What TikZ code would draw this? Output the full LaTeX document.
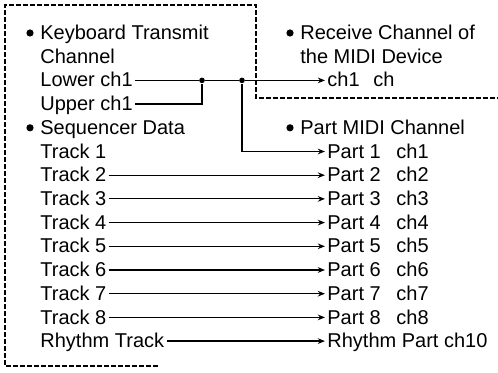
\documentclass[tikz,border=0pt]{standalone}
\usepackage{fontspec}
\setmainfont{Liberation Sans}
\usetikzlibrary{arrows.meta,positioning}
\tikzset{
  midilabel/.style={anchor=west,inner sep=1pt,text height=1.55ex,text depth=.3ex,
    font=\fontsize{10}{12}\selectfont},
  bulletdot/.style={circle,fill=black,inner sep=0pt,minimum size=3.6pt},
  junction/.style={circle,fill=black,inner sep=0pt,minimum size=2.8pt},
  wire/.style={line width=0.6pt},
  arrow/.style={wire,-{Stealth[length=3.6pt,width=2.8pt]}},
  frame/.style={line width=0.55pt,dash pattern=on 2.4pt off 1.1pt}
}

\begin{document}
\begin{tikzpicture}[x=0.5pt,y=-0.5pt]
  \useasboundingbox (0,0) rectangle (498,373);
  % dashed frame round the keyboard part
  \draw[frame] (158,366) -- (5,366) -- (5,5) -- (256,5) -- (256,98) -- (498,98);
  % left column
  \node[midilabel] (kbd) at (38,33) {Keyboard Transmit};
  \node[bulletdot, left=2pt of kbd] (kbddot) {};
  \node[midilabel] (chan) at (38,56.7) {Channel};
  \node[midilabel] (lower) at (38,80.4) {Lower ch1};
  \node[midilabel] (upper) at (38,104) {Upper ch1};
  \node[midilabel] (seq) at (38,127.8) {Sequencer Data};
  \node[bulletdot, left=2pt of seq] (seqdot) {};
  \node[midilabel] (trk1) at (38,151.5) {Track 1};
  \node[midilabel] (trk2) at (38,175.2) {Track 2};
  \node[midilabel] (trk3) at (38,198.9) {Track 3};
  \node[midilabel] (trk4) at (38,222.6) {Track 4};
  \node[midilabel] (trk5) at (38,246.3) {Track 5};
  \node[midilabel] (trk6) at (38,270) {Track 6};
  \node[midilabel] (trk7) at (38,293.7) {Track 7};
  \node[midilabel] (trk8) at (38,317.4) {Track 8};
  \node[midilabel] (trkr) at (38,341.1) {Rhythm Track};
  % right column
  \node[midilabel] (recv) at (298,33) {Receive Channel of};
  \node[bulletdot, left=2pt of recv] (recvdot) {};
  \node[midilabel] (dev) at (298,56.7) {the MIDI Device};
  \node[midilabel] (devch) at (325,80.4) {ch1};
  \node[midilabel] (devchx) at (371,80.4) {ch};
  \node[midilabel] (pmidi) at (298,127.8) {Part MIDI Channel};
  \node[bulletdot, left=2pt of pmidi] (pmididot) {};
  \node[midilabel] (part1) at (325,151.5) {Part 1};
  \node[midilabel] (part2) at (325,175.2) {Part 2};
  \node[midilabel] (part3) at (325,198.9) {Part 3};
  \node[midilabel] (part4) at (325,222.6) {Part 4};
  \node[midilabel] (part5) at (325,246.3) {Part 5};
  \node[midilabel] (part6) at (325,270) {Part 6};
  \node[midilabel] (part7) at (325,293.7) {Part 7};
  \node[midilabel] (part8) at (325,317.4) {Part 8};
  \node[midilabel] (partr) at (325,341.1) {Rhythm Part ch10};
  \node[midilabel] (ch1) at (394,151.5) {ch1};
  \node[midilabel] (ch2) at (394,175.2) {ch2};
  \node[midilabel] (ch3) at (394,198.9) {ch3};
  \node[midilabel] (ch4) at (394,222.6) {ch4};
  \node[midilabel] (ch5) at (394,246.3) {ch5};
  \node[midilabel] (ch6) at (394,270) {ch6};
  \node[midilabel] (ch7) at (394,293.7) {ch7};
  \node[midilabel] (ch8) at (394,317.4) {ch8};
  % keyboard junctions
  \node[junction] (j1) at (202,80.4) {};
  \node[junction] (j2) at (242,80.4) {};
  \draw[wire] (lower) -- (j1) -- (j2);
  \draw[wire] (upper) -| (j1);
  \draw[arrow] (j2) -- (devch);
  \draw[arrow] (j2) |- (part1);
  % sequencer tracks
  \draw[arrow] (trk2) -- (part2);
  \draw[arrow] (trk3) -- (part3);
  \draw[arrow] (trk4) -- (part4);
  \draw[arrow] (trk5) -- (part5);
  \draw[arrow] (trk6) -- (part6);
  \draw[arrow] (trk7) -- (part7);
  \draw[arrow] (trk8) -- (part8);
  \draw[arrow] (trkr) -- (partr);
\end{tikzpicture}
\end{document}
